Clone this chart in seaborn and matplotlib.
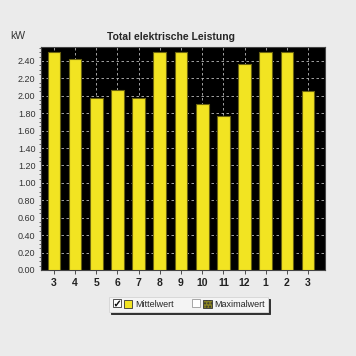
import pandas as pd
import matplotlib.pyplot as plt
import matplotlib.patches as mpatches
from matplotlib.lines import Line2D
from matplotlib.legend_handler import HandlerTuple
import seaborn as sns
from matplotlib.ticker import MultipleLocator

# monthly mean power (kW)
months = ['3', '4', '5', '6', '7', '8', '9', '10', '11', '12', '1', '2', '3']
mittelwert = [2.50, 2.42, 1.97, 2.07, 1.98, 2.50, 2.50, 1.91, 1.77, 2.37, 2.50, 2.50, 2.05]

df = pd.DataFrame({'slot': [str(i) for i in range(len(months))],
                   'Mittelwert': mittelwert})

sns.set_style('white')
plt.rcParams['font.family'] = ['Liberation Sans', 'DejaVu Sans']

f = plt.figure(figsize=(3.56, 3.56), dpi=100, facecolor='#ebebeb')
a = f.add_axes([0.115, 0.2416, 0.798, 0.6264])
a.set_facecolor('black')

sns.barplot(data=df, x='slot', y='Mittelwert', color='#f2e422', width=0.6,
            edgecolor='#6b6410', linewidth=0.8, saturation=1, ax=a, zorder=3)

a.set_xlim(-0.61, 12.8)
a.set_ylim(0, 2.56)
a.yaxis.set_major_locator(MultipleLocator(0.2))
a.yaxis.set_minor_locator(MultipleLocator(0.05))
a.set_yticklabels([f'{v:.2f}' for v in a.get_yticks()])
a.set_xticks(range(len(months)))
a.set_xticklabels(months, fontsize=7.5, fontweight='bold', color='#222222')
a.tick_params(axis='y', which='major', labelsize=6.5, length=3, width=0.6, color='#333333',
              pad=1, labelcolor='#333333')
a.tick_params(axis='y', which='minor', length=1.5, width=0.5, color='#333333', left=True)
a.tick_params(axis='x', length=3, width=0.6, color='#333333', pad=3, bottom=True)
a.set_xlabel('')
a.set_ylabel('')
a.grid(True, color='#bbbbbb', linestyle=(0, (3, 3)), linewidth=0.6, zorder=1)
a.set_axisbelow(True)
for s in a.spines.values():
    s.set_color('#444444')
    s.set_linewidth(0.8)

f.text(0.48, 0.887, 'Total elektrische Leistung', fontsize=7.5, fontweight='bold',
       ha='center', va='baseline')
f.text(0.028, 0.89, 'kW', fontsize=7.5, color='#333333')

# legend row with checkboxes
box_on = (Line2D([], [], marker='s', markersize=6, mfc='white', mec='#333333', mew=0.6, ls='none'),
          Line2D([], [], marker='$\\checkmark$', markersize=3.8, color='black', mew=0.3, ls='none'))
box_off = Line2D([], [], marker='s', markersize=6, mfc='white', mec='#999999', mew=0.6, ls='none')
h1 = mpatches.Patch(facecolor='#f2e422', edgecolor='#333333', linewidth=0.6)
h2 = mpatches.Patch(facecolor='#8a8420', edgecolor='#333333', linewidth=0.6, hatch='.....')
entry1 = (box_on, h1)
entry2 = (box_off, h2)
leg = f.legend(handles=[entry1, entry2], labels=['Mittelwert', 'Maximalwert'],
               handler_map={entry1: HandlerTuple(ndivide=None, pad=0.3),
                            entry2: HandlerTuple(ndivide=None, pad=0.3)},
               loc='center', bbox_to_anchor=(0.53, 0.145), ncol=2,
               fontsize=6.5, frameon=True, fancybox=False, edgecolor='#d8d8d8',
               handlelength=2.2, handleheight=1.0, handletextpad=0.3, columnspacing=2.0,
               borderpad=0.35, shadow={'ox': 1.5, 'oy': -1.5, 'color': '#333333', 'alpha': 1})
leg.get_frame().set_facecolor('#f4f4f4')
leg.get_frame().set_linewidth(0.7)

plt.savefig('out.png', dpi=100, facecolor=f.get_facecolor())
